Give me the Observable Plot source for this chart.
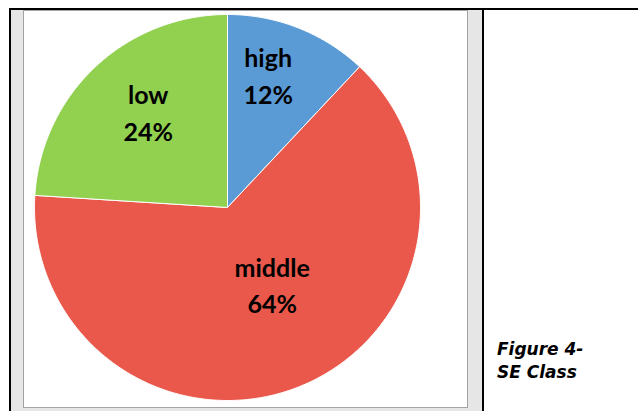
<!DOCTYPE html>
<html>
<head>
<meta charset="utf-8">
<script src="https://cdn.jsdelivr.net/npm/d3@7"></script>
<script src="https://cdn.jsdelivr.net/npm/@observablehq/plot@0.6"></script>
<style>
  html, body { margin: 0; padding: 0; background: #fff; }
  #page { position: relative; width: 638px; height: 411px; overflow: hidden; background: #fff; }
  .rule { position: absolute; background: #000; }
  #band { position: absolute; left: 11px; top: 10px; width: 471px; height: 401px; background: #e6e6e6; }
  #box { position: absolute; left: 23px; top: 10px; width: 445px; height: 398px; box-sizing: border-box;
         border: 1px solid #a3a3a3; background: #fff; }
  #chart { position: absolute; left: 24px; top: 11px; width: 443px; height: 396px; }
  #caption { position: absolute; left: 497px; top: 338px; font-family: "DejaVu Sans", sans-serif;
             font-weight: bold; font-style: italic; font-size: 17px; line-height: 23px; color: #000; }
</style>
</head>
<body>
<div id="page">
  <div id="band"></div>
  <div class="rule" style="left:9px; top:8px; width:629px; height:2px;"></div>
  <div class="rule" style="left:9px; top:8px; width:2px; height:403px;"></div>
  <div class="rule" style="left:482px; top:8px; width:2px; height:403px;"></div>
  <div id="box"></div>
  <div id="chart"></div>
  <div id="caption">Figure 4-<br>SE Class</div>
</div>
<script>
// Socio-economic class shares (percent)
const categories = ["high", "middle", "low"];
const shares = [12, 64, 24];
const sliceColors = ["#5B9BD5", "#E9584A", "#92D050"];

// label nudges (px) from each slice's centroid
const labelNudge = { high: [-2, -26], middle: [2, -32], low: [0, -12] };

// slice angles, clockwise from 12 o'clock
const arcs = d3.pie().sort(null).value(d => d)(shares);

// each slice as a closed polygon in unit-circle coordinates
const wedges = [];
arcs.forEach((a, i) => {
  const key = categories[i];
  wedges.push({ key, x: 0, y: 0 });
  const steps = Math.max(2, Math.ceil((a.endAngle - a.startAngle) / (Math.PI / 360)));
  for (let s = 0; s <= steps; s++) {
    const t = a.startAngle + (a.endAngle - a.startAngle) * (s / steps);
    wedges.push({ key, x: Math.sin(t), y: Math.cos(t) });
  }
  wedges.push({ key, x: 0, y: 0 });
});

const labels = arcs.map((a, i) => {
  const mid = (a.startAngle + a.endAngle) / 2;
  return { key: categories[i], text: `${categories[i]}\n${shares[i]}%`, x: 0.6 * Math.sin(mid), y: 0.6 * Math.cos(mid) };
});

const chart = Plot.plot({
  width: 443,
  height: 396,
  margin: 0,
  style: { background: "transparent", overflow: "visible" },
  x: { domain: [-1, 1], range: [10, 396], axis: null },
  y: { domain: [-1, 1], range: [389, 3], axis: null },
  color: { domain: categories, range: sliceColors },
  marks: [
    Plot.line(wedges, { x: "x", y: "y", z: "key", fill: "key", stroke: "#fff", strokeWidth: 1, strokeLinejoin: "round" }),
    ...labels.map(l => Plot.text([l], {
      x: "x", y: "y", text: "text",
      dx: labelNudge[l.key][0], dy: labelNudge[l.key][1],
      lineHeight: 1.48, lineAnchor: "middle", textAnchor: "middle",
      fontFamily: "Lato, sans-serif", fontWeight: "bold", fontSize: 25, fill: "#000"
    }))
  ]
});

document.getElementById("chart").appendChild(chart);
</script>
</body>
</html>
